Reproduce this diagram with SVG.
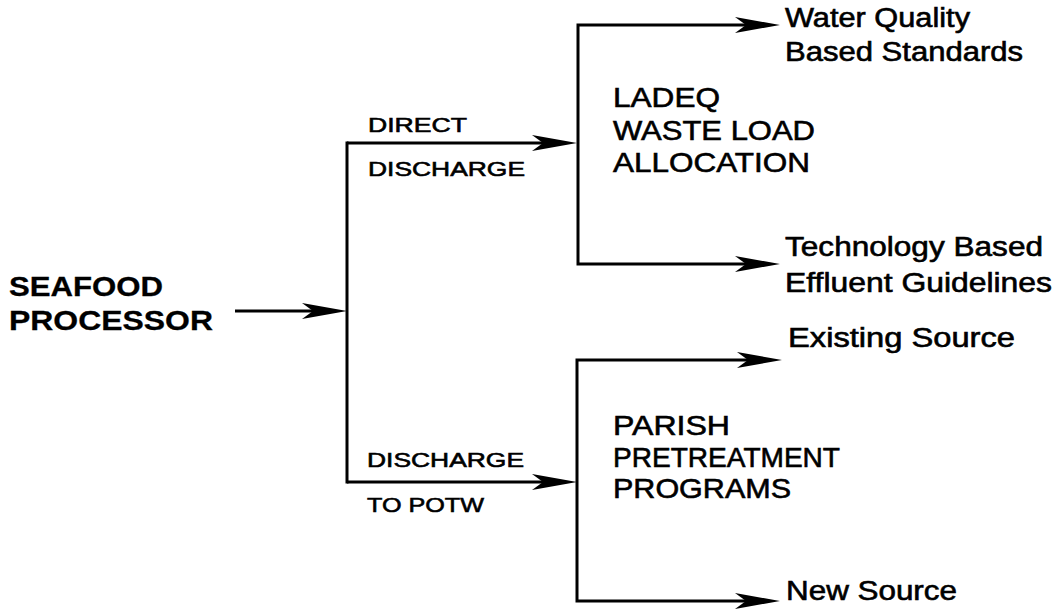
<svg xmlns="http://www.w3.org/2000/svg" width="1059" height="615" viewBox="0 0 1059 615">
  <style>
    .bg { fill: #ffffff; }
    .ln { fill: none; stroke: #000; stroke-width: 3; stroke-linecap: square; }
    .arr { fill: none; stroke: #000; stroke-width: 3; marker-end: url(#ah); }
    text { font-family: "Liberation Sans", Arial, Helvetica, sans-serif; fill: #000; stroke: #000; stroke-width: 0.6; }
    .big { font-size: 28px; font-weight: bold; stroke-width: 0.3; }
    .blk { font-size: 28px; }
    .lbl { font-size: 21px; }
    .out { font-size: 27px; }
  </style>
  <defs>
    <marker id="ah" markerUnits="userSpaceOnUse" viewBox="-46 -9 48 18" refX="-30" refY="0" markerWidth="48" markerHeight="18" orient="auto">
      <path d="M0,0 L-45,-8 L-34,0 L-45,8 Z" fill="#000"/>
    </marker>
  </defs>
  <rect class="bg" x="0" y="0" width="1059" height="615"/>

  <g id="connectors">
    <line class="arr" x1="235" y1="311" x2="317" y2="311"/>
    <line class="ln" x1="347" y1="143" x2="347" y2="482"/>
    <line class="arr" x1="347" y1="143" x2="547" y2="143"/>
    <line class="arr" x1="347" y1="482" x2="547" y2="482"/>
    <path class="arr" d="M578,144 V25 H750"/>
    <path class="arr" d="M578,144 V264 H750"/>
    <path class="arr" d="M577,482 V360 H752"/>
    <path class="arr" d="M577,482 V601 H750"/>
  </g>

  <g id="seafood-processor">
    <text class="big" x="9" y="296" textLength="154" lengthAdjust="spacingAndGlyphs">SEAFOOD</text>
    <text class="big" x="9" y="330" textLength="204" lengthAdjust="spacingAndGlyphs">PROCESSOR</text>
  </g>

  <g id="direct-discharge">
    <text class="lbl" x="368" y="132" textLength="99" lengthAdjust="spacingAndGlyphs">DIRECT</text>
    <text class="lbl" x="368" y="176" textLength="157" lengthAdjust="spacingAndGlyphs">DISCHARGE</text>
  </g>

  <g id="discharge-to-potw">
    <text class="lbl" x="367" y="467" textLength="157" lengthAdjust="spacingAndGlyphs">DISCHARGE</text>
    <text class="lbl" x="367" y="512" textLength="117" lengthAdjust="spacingAndGlyphs">TO POTW</text>
  </g>

  <g id="ladeq">
    <text class="blk" x="613" y="107" textLength="107" lengthAdjust="spacingAndGlyphs">LADEQ</text>
    <text class="blk" x="613" y="140" textLength="202" lengthAdjust="spacingAndGlyphs">WASTE LOAD</text>
    <text class="blk" x="613" y="172" textLength="197" lengthAdjust="spacingAndGlyphs">ALLOCATION</text>
  </g>

  <g id="parish">
    <text class="blk" x="613" y="435" textLength="117" lengthAdjust="spacingAndGlyphs">PARISH</text>
    <text class="blk" x="613" y="467" textLength="227" lengthAdjust="spacingAndGlyphs">PRETREATMENT</text>
    <text class="blk" x="613" y="498" textLength="178" lengthAdjust="spacingAndGlyphs">PROGRAMS</text>
  </g>

  <g id="water-quality">
    <text class="out" x="785" y="27" textLength="185" lengthAdjust="spacingAndGlyphs">Water Quality</text>
    <text class="out" x="785" y="61" textLength="238" lengthAdjust="spacingAndGlyphs">Based Standards</text>
  </g>

  <g id="technology">
    <text class="out" x="785" y="256" textLength="258" lengthAdjust="spacingAndGlyphs">Technology Based</text>
    <text class="out" x="785" y="292" textLength="267" lengthAdjust="spacingAndGlyphs">Effluent Guidelines</text>
  </g>

  <g id="existing-source">
    <text class="out" x="788" y="347" textLength="227" lengthAdjust="spacingAndGlyphs">Existing Source</text>
  </g>

  <g id="new-source">
    <text class="out" x="786" y="600" textLength="171" lengthAdjust="spacingAndGlyphs">New Source</text>
  </g>
</svg>
